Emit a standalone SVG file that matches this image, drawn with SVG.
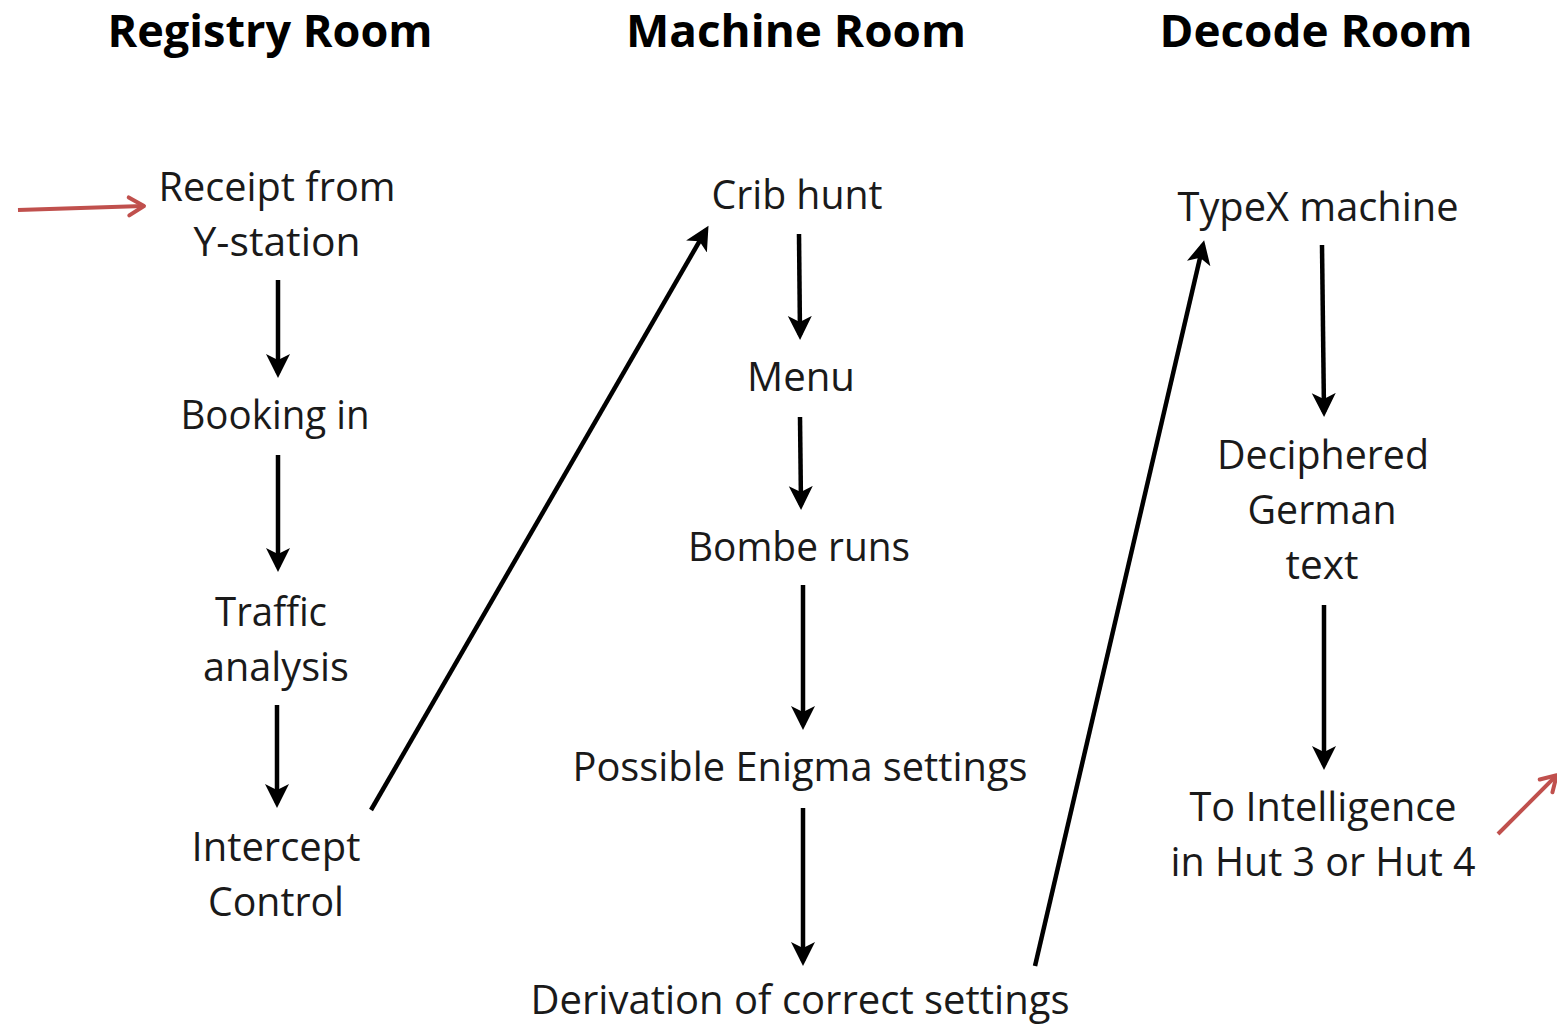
<svg xmlns="http://www.w3.org/2000/svg" width="1557" height="1024" viewBox="0 0 1557 1024">
<style>
.h{font-family:"Open Sans","Liberation Sans",sans-serif;font-weight:bold;font-size:44px;fill:#000;text-anchor:middle}
.t{font-family:"Open Sans","Liberation Sans",sans-serif;font-size:41px;fill:#1a1a1a;text-anchor:middle}
.a{stroke:#000;stroke-width:4.5;fill:none}
.r{stroke:#c0504d;stroke-width:4;fill:none}
</style>
<defs>
<marker id="ah" markerUnits="userSpaceOnUse" markerWidth="26" markerHeight="26" refX="19" refY="12" orient="auto" viewBox="0 0 26 24">
<path d="M0,0 L24,12 L0,24 L6,12 z" fill="#000"/>
</marker>
<marker id="rh" markerUnits="userSpaceOnUse" markerWidth="24" markerHeight="24" refX="18" refY="11" orient="auto" viewBox="0 0 24 22">
<path d="M4,2 L19,11 L4,20" fill="none" stroke="#c0504d" stroke-width="4" stroke-linecap="round" stroke-linejoin="round"/>
</marker>
</defs>
<rect width="1557" height="1024" fill="#fff"/>
<g id="headers">
<text class="h" x="270" y="47" textLength="325" lengthAdjust="spacingAndGlyphs">Registry Room</text>
<text class="h" x="796" y="47" textLength="340" lengthAdjust="spacingAndGlyphs">Machine Room</text>
<text class="h" x="1316" y="47" textLength="313" lengthAdjust="spacingAndGlyphs">Decode Room</text>
</g>
<g id="receipt"><text class="t" x="277" y="201" textLength="237" lengthAdjust="spacingAndGlyphs">Receipt from</text><text class="t" x="277" y="256" textLength="167" lengthAdjust="spacingAndGlyphs">Y-station</text></g>
<g id="booking"><text class="t" x="275" y="429" textLength="189" lengthAdjust="spacingAndGlyphs">Booking in</text></g>
<g id="traffic"><text class="t" x="271" y="626" textLength="112" lengthAdjust="spacingAndGlyphs">Traffic</text><text class="t" x="276" y="681" textLength="146" lengthAdjust="spacingAndGlyphs">analysis</text></g>
<g id="intercept"><text class="t" x="276" y="861" textLength="169" lengthAdjust="spacingAndGlyphs">Intercept</text><text class="t" x="276" y="916" textLength="136" lengthAdjust="spacingAndGlyphs">Control</text></g>
<g id="crib"><text class="t" x="797" y="209" textLength="171" lengthAdjust="spacingAndGlyphs">Crib hunt</text></g>
<g id="menu"><text class="t" x="801" y="391" textLength="108" lengthAdjust="spacingAndGlyphs">Menu</text></g>
<g id="bombe"><text class="t" x="799" y="561" textLength="222" lengthAdjust="spacingAndGlyphs">Bombe runs</text></g>
<g id="possible"><text class="t" x="800" y="781" textLength="455" lengthAdjust="spacingAndGlyphs">Possible Enigma settings</text></g>
<g id="derivation"><text class="t" x="800" y="1014" textLength="539" lengthAdjust="spacingAndGlyphs">Derivation of correct settings</text></g>
<g id="typex"><text class="t" x="1318" y="221" textLength="281" lengthAdjust="spacingAndGlyphs">TypeX machine</text></g>
<g id="deciphered"><text class="t" x="1323" y="469" textLength="212" lengthAdjust="spacingAndGlyphs">Deciphered</text><text class="t" x="1322" y="524" textLength="149" lengthAdjust="spacingAndGlyphs">German</text><text class="t" x="1322" y="579" textLength="73" lengthAdjust="spacingAndGlyphs">text</text></g>
<g id="intelligence"><text class="t" x="1323" y="821" textLength="267" lengthAdjust="spacingAndGlyphs">To Intelligence</text><text class="t" x="1323" y="876" textLength="305" lengthAdjust="spacingAndGlyphs">in Hut 3 or Hut 4</text></g>
<g id="connectors">
<line class="a" x1="278" y1="280" x2="278" y2="373" marker-end="url(#ah)"/>
<line class="a" x1="278" y1="455" x2="278" y2="567" marker-end="url(#ah)"/>
<line class="a" x1="277" y1="705" x2="277" y2="803" marker-end="url(#ah)"/>
<line class="a" x1="371" y1="810" x2="706" y2="230" marker-end="url(#ah)"/>
<line class="a" x1="799" y1="234" x2="800" y2="335" marker-end="url(#ah)"/>
<line class="a" x1="800" y1="417" x2="801" y2="505" marker-end="url(#ah)"/>
<line class="a" x1="803" y1="585" x2="803" y2="725" marker-end="url(#ah)"/>
<line class="a" x1="803" y1="808" x2="803" y2="961" marker-end="url(#ah)"/>
<line class="a" x1="1035" y1="966" x2="1203" y2="245" marker-end="url(#ah)"/>
<line class="a" x1="1322" y1="245" x2="1324" y2="412" marker-end="url(#ah)"/>
<line class="a" x1="1324" y1="605" x2="1324" y2="765" marker-end="url(#ah)"/>
<line class="r" x1="18" y1="210" x2="143" y2="206" marker-end="url(#rh)"/>
<line class="r" x1="1498" y1="834" x2="1556" y2="776" marker-end="url(#rh)"/>
</g>
</svg>
